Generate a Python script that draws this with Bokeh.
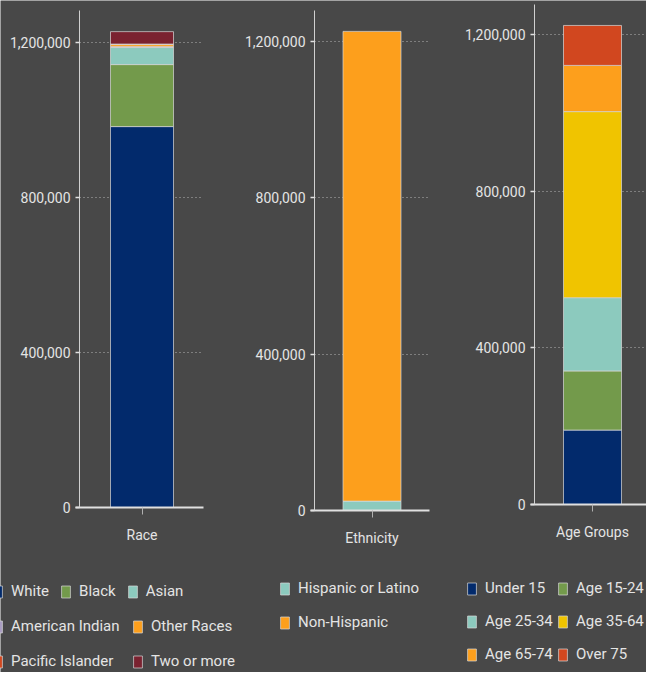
from bokeh.plotting import figure
from bokeh.models import (Range1d, FixedTicker, NumeralTickFormatter, Legend, LegendItem,
                          ColumnDataSource, LinearAxis, Grid)
from bokeh.embed import file_html
from bokeh.resources import INLINE

# ---- data ----
race_labels = ["White", "Black", "Asian", "American Indian", "Other Races", "Pacific Islander", "Two or more"]
race_values = [983000, 160000, 44000, 3000, 5000, 1000, 32000]
race_colors = ["#022a6c", "#739a4b", "#8ccabe", "#a99cc2", "#fd9f1c", "#d1471f", "#7a2230"]

eth_labels = ["Hispanic or Latino", "Non-Hispanic"]
eth_values = [24000, 1202000]
eth_colors = ["#8ccabe", "#fd9f1c"]

age_labels = ["Under 15", "Age 15-24", "Age 25-34", "Age 35-64", "Age 65-74", "Over 75"]
age_values = [190000, 151000, 187000, 475000, 118000, 102000]
age_colors = ["#022a6c", "#739a4b", "#8ccabe", "#f0c400", "#fd9f1c", "#d1471f"]

y_ticks = [0, 400000, 800000, 1200000]

# ---- styling / layout ----
W, H = 646, 672
BG = "#484848"
TXT = "#e4e4e4"
FONT = "Roboto"
LEG_ITEM_H = 18

p = figure(width=W, height=H, x_range=Range1d(0, W), y_range=Range1d(0, H),
           min_border=0, x_axis_location=None, y_axis_location=None,
           output_backend="svg", toolbar_location=None)
p.background_fill_color = BG
p.border_fill_color = BG
p.outline_line_color = None
p.grid.grid_line_color = None

has_cross = "cross_bounds" in Grid.properties()


def panel(name, category, labels, values, colors,
          center_px, x_ppu, zero_px, y_ppu, axis_px, axis_top_px, right_px, legend_rows):
    # per-panel scales, so each chart sits where it does in the page
    p.extra_x_ranges[name] = Range1d(-center_px / x_ppu, (W - center_px) / x_ppu)
    p.extra_y_ranges[name] = Range1d(-(H - zero_px) / y_ppu, zero_px / y_ppu)
    xd = lambda px: (px - center_px) / x_ppu
    yd = lambda px: (zero_px - px) / y_ppu

    keys = ["s%d" % i for i in range(len(values))]
    data = {"x": [0]}
    for k, v in zip(keys, values):
        data[k] = [v]
    src = ColumnDataSource(data)

    grid = Grid(dimension=1, ticker=FixedTicker(ticks=y_ticks),
                x_range_name=name, y_range_name=name,
                grid_line_color="#b4b4b4", grid_line_dash="1 3", grid_line_width=1)
    if has_cross:
        grid.cross_bounds = (xd(axis_px), xd(right_px))
    p.add_layout(grid)

    rends = p.vbar_stack(keys, x="x", width=0.5, source=src,
                         x_range_name=name, y_range_name=name,
                         fill_color=colors, line_color="#d8d8d8", line_alpha=0.7, line_width=1)

    ya = LinearAxis(x_range_name=name, y_range_name=name,
                    ticker=FixedTicker(ticks=y_ticks),
                    formatter=NumeralTickFormatter(format="0,0"),
                    fixed_location=xd(axis_px), bounds=(0, yd(axis_top_px)))
    ya.axis_line_color = "#d0d0d0"
    ya.axis_line_width = 1
    ya.major_tick_line_color = "#e0e0e0"
    ya.major_tick_line_width = 1.5
    ya.major_tick_out = 4
    ya.major_tick_in = 0
    ya.minor_tick_line_color = None
    ya.major_label_text_color = TXT
    ya.major_label_text_font = FONT
    ya.major_label_text_font_size = "14px"
    ya.major_label_standoff = 5
    p.add_layout(ya, "left")

    xa = LinearAxis(x_range_name=name, y_range_name=name,
                    ticker=FixedTicker(ticks=[0]),
                    major_label_overrides={0: category},
                    fixed_location=0, bounds=(xd(axis_px - 4), xd(right_px)))
    xa.axis_line_color = "#e0e0e0"
    xa.axis_line_width = 2
    xa.major_tick_line_color = "#b0b0b0"
    xa.major_tick_out = 7
    xa.major_tick_in = 0
    xa.minor_tick_line_color = None
    xa.major_label_text_color = TXT
    xa.major_label_text_font = FONT
    xa.major_label_text_font_size = "14px"
    xa.major_label_standoff = 12
    p.add_layout(xa, "below")

    for idxs, x, swatch_top, lw, sp in legend_rows:
        items = [LegendItem(label=labels[i], renderers=[rends[i]]) for i in idxs]
        leg = Legend(items=items, location=(x, (H - swatch_top) - LEG_ITEM_H),
                     orientation="horizontal",
                     glyph_width=11, glyph_height=15, label_standoff=8,
                     label_width=lw, label_height=LEG_ITEM_H, spacing=sp,
                     padding=0, margin=0,
                     border_line_color=None, background_fill_alpha=0,
                     label_text_color=TXT, label_text_font=FONT,
                     label_text_font_size="15px")
        p.add_layout(leg)


panel("race", "Race", race_labels, race_values, race_colors,
      141.5, 126.0, 507, 0.3875e-3, 79, 10, 203,
      [([0, 1, 2], -8, 582, 0, 11),
       ([3, 4], -8, 617, 111, 10),
       ([5, 6], -8, 652, 111, 10)])

panel("eth", "Ethnicity", eth_labels, eth_values, eth_colors,
      371.5, 116.0, 510, 0.3908e-3, 314, 10, 429,
      [([0], 279, 579, 0, 10),
       ([1], 279, 613, 0, 10)])

panel("age", "Age Groups", age_labels, age_values, age_colors,
      592.0, 116.0, 504, 0.3917e-3, 534, 4, 649,
      [([0, 1], 466, 579, 68, 4),
       ([2, 3], 466, 612, 68, 4),
       ([4, 5], 466, 645, 68, 4)])

html = file_html(p, INLINE)
html = html.replace("<body>", '<body style="background-color:#484848;">', 1)
open("out.html", "w").write(html)
